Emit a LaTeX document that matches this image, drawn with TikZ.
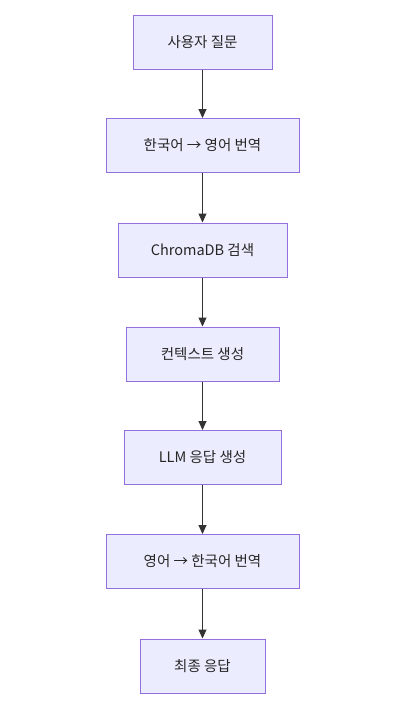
\documentclass[tikz,border=0pt]{standalone}
\usepackage{fontspec}
\setmainfont{Noto Sans CJK KR}
\usetikzlibrary{arrows.meta}
\definecolor{boxfill}{HTML}{ECECFF}
\definecolor{boxline}{HTML}{9370DB}
\definecolor{linkcol}{HTML}{333333}
\tikzset{
  stepbox/.style={draw=boxline, fill=boxfill, line width=1pt, minimum height=54pt,
    inner sep=0pt, font=\fontsize{14.5}{17}\selectfont, text=black!85},
  flow/.style={draw=linkcol, line width=1pt, -{Triangle[length=9pt,width=8pt]}}
}
\begin{document}
\begin{tikzpicture}[x=1pt,y=-1pt]
\useasboundingbox (0,0) rectangle (406,713);
% the steps, top to bottom
\node[stepbox, minimum width=139pt] (ask)    at (202.5,42)    {사용자 질문};
\node[stepbox, minimum width=193pt] (toen)   at (202.5,145.5) {한국어 → 영어 번역};
\node[stepbox, minimum width=169pt] (search) at (202.5,250)   {ChromaDB 검색};
\node[stepbox, minimum width=153pt] (ctx)    at (202.5,354)   {컨텍스트 생성};
\node[stepbox, minimum width=157pt] (llm)    at (202.5,457.5) {LLM 응답 생성};
\node[stepbox, minimum width=193pt] (toko)   at (202.5,561.5) {영어 → 한국어 번역};
\node[stepbox, minimum width=125pt] (final)  at (202.5,666)   {최종 응답};
% the links
\draw[flow] (ask) -- (toen);
\draw[flow] (toen) -- (search);
\draw[flow] (search) -- (ctx);
\draw[flow] (ctx) -- (llm);
\draw[flow] (llm) -- (toko);
\draw[flow] (toko) -- (final);
\end{tikzpicture}
\end{document}
